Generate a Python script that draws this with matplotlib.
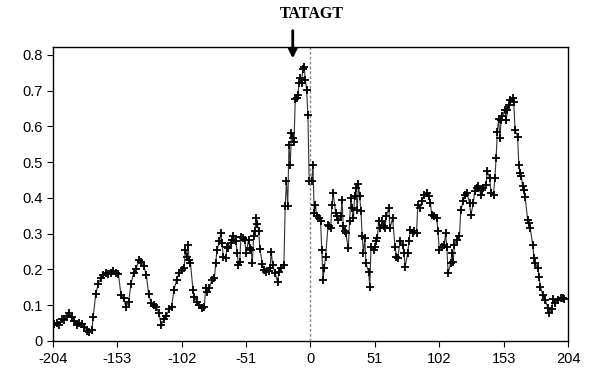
import matplotlib
matplotlib.use('Agg')
import matplotlib.pyplot as plt

# position relative to the site (bp) and the profile value
pos = [-203, -201, -199, -197, -195, -193, -191, -189, -187, -185,
       -183, -181, -179, -177, -175, -173, -172, -170, -168, -166,
       -164, -162, -160, -158, -156, -154, -152, -150, -148, -146,
       -144, -142, -140, -138, -136, -134, -132, -130, -128, -126,
       -124, -122, -120, -118, -116, -114, -112, -110, -108, -106,
       -104, -102, -100, -99, -98, -97, -96, -95, -93, -92,
       -90, -88, -86, -84, -83, -82, -80, -78, -76, -75,
       -74, -72, -71, -70, -69, -67, -66, -65, -63, -62,
       -61, -59, -58, -57, -56, -55, -53, -52, -51, -49,
       -48, -47, -46, -45, -44, -43, -42, -41, -40, -38,
       -37, -35, -33, -32, -31, -30, -28, -26, -25, -23,
       -21, -20, -19, -18, -17, -16, -15, -14, -13, -12,
       -11, -10, -9, -8, -7, -6, -5, -4, -3, -2,
       -1, 1, 2, 3, 4, 5, 7, 8, 9, 10,
       11, 12, 14, 15, 16, 17, 18, 20, 21, 22,
       24, 25, 26, 27, 28, 30, 31, 32, 33, 34,
       35, 36, 37, 38, 39, 40, 41, 42, 43, 44,
       46, 47, 48, 50, 51, 52, 53, 54, 55, 57,
       58, 59, 60, 62, 63, 65, 67, 68, 69, 71,
       73, 74, 75, 77, 78, 79, 81, 82, 84, 85,
       87, 88, 90, 92, 94, 95, 96, 98, 100, 101,
       102, 104, 106, 107, 108, 109, 111, 112, 113, 114,
       116, 118, 119, 121, 122, 124, 126, 127, 129, 130,
       132, 133, 135, 136, 137, 139, 140, 142, 143, 145,
       146, 147, 148, 149, 150, 151, 152, 154, 155, 156,
       157, 158, 160, 161, 162, 164, 165, 166, 167, 168,
       169, 170, 172, 173, 174, 176, 177, 178, 180, 181,
       182, 184, 186, 188, 189, 191, 192, 194, 196, 198,
       200, 201]

score = [0.048, 0.050, 0.045, 0.060, 0.058, 0.070, 0.078, 0.068, 0.055, 0.045,
         0.050, 0.047, 0.040, 0.028, 0.024, 0.030, 0.068, 0.130, 0.160, 0.175,
         0.185, 0.190, 0.187, 0.190, 0.196, 0.190, 0.187, 0.128, 0.120, 0.095,
         0.110, 0.160, 0.190, 0.200, 0.226, 0.222, 0.210, 0.185, 0.130, 0.105,
         0.100, 0.095, 0.077, 0.045, 0.060, 0.070, 0.088, 0.095, 0.143, 0.170,
         0.190, 0.199, 0.205, 0.255, 0.235, 0.268, 0.225, 0.218, 0.143, 0.124,
         0.110, 0.100, 0.093, 0.096, 0.147, 0.138, 0.147, 0.171, 0.177, 0.217,
         0.255, 0.278, 0.301, 0.273, 0.236, 0.231, 0.264, 0.259, 0.273, 0.283,
         0.294, 0.278, 0.245, 0.213, 0.222, 0.290, 0.287, 0.283, 0.245, 0.283,
         0.259, 0.255, 0.217, 0.292, 0.306, 0.343, 0.328, 0.306, 0.257, 0.215,
         0.199, 0.194, 0.196, 0.203, 0.250, 0.213, 0.189, 0.166, 0.194, 0.205,
         0.213, 0.376, 0.446, 0.376, 0.548, 0.492, 0.581, 0.567, 0.557, 0.676,
         0.680, 0.688, 0.720, 0.735, 0.720, 0.760, 0.765, 0.730, 0.702, 0.632,
         0.446, 0.446, 0.492, 0.357, 0.380, 0.348, 0.343, 0.336, 0.255, 0.171,
         0.203, 0.236, 0.324, 0.320, 0.315, 0.380, 0.413, 0.357, 0.348, 0.338,
         0.348, 0.394, 0.320, 0.306, 0.301, 0.259, 0.334, 0.399, 0.371, 0.343,
         0.404, 0.427, 0.366, 0.438, 0.404, 0.362, 0.292, 0.245, 0.287, 0.217,
         0.194, 0.152, 0.264, 0.255, 0.264, 0.278, 0.287, 0.336, 0.315, 0.334,
         0.320, 0.315, 0.348, 0.371, 0.315, 0.343, 0.264, 0.236, 0.231, 0.278,
         0.269, 0.245, 0.208, 0.245, 0.278, 0.310, 0.301, 0.306, 0.301, 0.380,
         0.371, 0.390, 0.408, 0.413, 0.404, 0.385, 0.352, 0.348, 0.343, 0.306,
         0.255, 0.264, 0.269, 0.301, 0.264, 0.189, 0.217, 0.245, 0.222, 0.269,
         0.283, 0.292, 0.366, 0.390, 0.408, 0.413, 0.385, 0.352, 0.385, 0.418,
         0.427, 0.432, 0.408, 0.422, 0.427, 0.436, 0.474, 0.455, 0.413, 0.408,
         0.455, 0.511, 0.585, 0.620, 0.567, 0.618, 0.629, 0.646, 0.618, 0.646,
         0.660, 0.674, 0.679, 0.667, 0.590, 0.571, 0.492, 0.469, 0.460, 0.432,
         0.422, 0.402, 0.338, 0.331, 0.315, 0.269, 0.231, 0.217, 0.203, 0.180,
         0.152, 0.129, 0.115, 0.091, 0.077, 0.089, 0.117, 0.107, 0.115, 0.119,
         0.119, 0.117]

xticks = [-204, -153, -102, -51, 0, 51, 102, 153, 204]
yticks = [0, 0.1, 0.2, 0.3, 0.4, 0.5, 0.6, 0.7, 0.8]
motif = 'TATAGT'
motif_pos = -14

plt.rcParams['font.family'] = ['Liberation Sans', 'DejaVu Sans']

fig = plt.figure(figsize=(5.93, 3.78), dpi=100)
ax = fig.add_axes([0.089, 0.098, 0.869, 0.778])

ax.plot(pos, score, color='#333333', lw=0.8, marker='+', ms=5.5,
        mec='black', mew=1.3, zorder=3)
ax.axvline(0, color='#888888', lw=1.0, ls=(0, (2, 1.5)), zorder=2)

ax.set_xlim(-204, 204)
ax.set_ylim(0, 0.822)
ax.set_xticks(xticks)
ax.set_xticklabels([str(t) for t in xticks])
ax.set_yticks(yticks)
ax.set_yticklabels(['0' if t == 0 else '%.1f' % t for t in yticks])
ax.tick_params(axis='both', direction='out', length=4, width=0.8,
               labelsize=10.5, colors='black')
ax.tick_params(axis='x', pad=4)
for s in ax.spines.values():
    s.set_linewidth(1.0)
    s.set_color('black')

# motif annotation above the peak
ax.annotate('', xy=(motif_pos, 0.782), xytext=(motif_pos, 0.875),
            xycoords='data', textcoords='data', annotation_clip=False,
            arrowprops=dict(arrowstyle='-|>,head_width=0.25,head_length=0.5',
                            color='black', lw=2.0))
ax.text(1, 0.915, motif, ha='center', va='center', fontsize=11.5,
        fontweight='bold', family=['Liberation Serif', 'DejaVu Serif'],
        transform=ax.transData, clip_on=False)

fig.savefig('out.png', dpi=100)
